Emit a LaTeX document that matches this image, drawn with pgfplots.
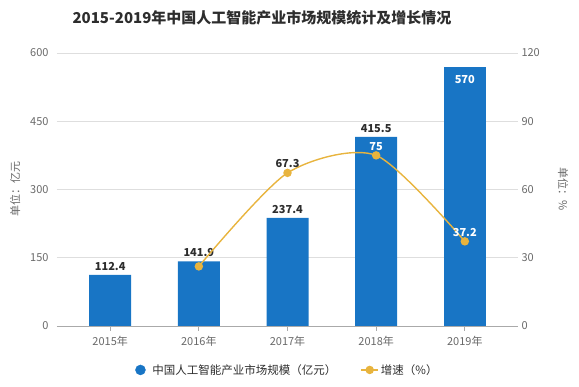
\documentclass[border=0pt]{standalone}
\usepackage{fontspec}
\setmainfont{Noto Sans CJK SC}
\usepackage{pgfplots}
\pgfplotsset{compat=1.18}
\definecolor{barblue}{RGB}{24,117,197}
\definecolor{linegold}{RGB}{232,180,62}
\definecolor{txt}{RGB}{45,45,45}
\definecolor{ticktxt}{RGB}{105,105,105}
\definecolor{gridc}{RGB}{222,222,222}
\definecolor{axisc}{RGB}{170,170,170}
\begin{document}
\begin{tikzpicture}[x=1pt,y=1pt]
\useasboundingbox (0,0) rectangle (579,387);
\node[font=\fontsize{15}{18}\selectfont\bfseries, text=txt] at (262,369) {2015-2019年中国人工智能产业市场规模统计及增长情况};
\begin{axis}[
  at={(57pt,61pt)}, anchor=south west, scale only axis,
  width=461pt, height=273pt,
  xmin=-0.6, xmax=4.6, ymin=0, ymax=600,
  xtick={0,1,2,3,4},
  xticklabels={2015年,2016年,2017年,2018年,2019年},
  ytick={0,150,300,450,600},
  axis x line*=bottom, axis y line*=left,
  y axis line style={draw=none},
  x axis line style={draw=axisc, line width=0.8pt, -},
  ymajorgrids, grid style={gridc, line width=0.8pt},
  tick align=outside,
  ytick style={draw=none},
  xtick style={draw=axisc, line width=0.8pt},
  major tick length=5pt,
  /pgf/number format/assume math mode=true,
  ticklabel style={font=\fontsize{11}{13}\selectfont, text=ticktxt},
  xticklabel style={yshift=-2pt},
  ylabel={单位：亿元},
  ylabel style={at={(axis description cs:-0.091,0.5)}, anchor=center, rotate=0, font=\fontsize{11}{13}\selectfont, text=ticktxt},
  ybar, bar width=42pt, bar shift=0pt,
  nodes near coords,
  nodes near coords style={font=\fontsize{11}{13}\selectfont\bfseries, text=txt, yshift=1pt},
  clip=false,
]
\addplot[fill=barblue, draw=none] coordinates {(0,112.4) (1,141.9) (2,237.4) (3,415.5)};
\addplot[fill=barblue, draw=none, nodes near coords style={anchor=north, text=white, yshift=-6pt}] coordinates {(4,570)};
\end{axis}
\begin{axis}[
  at={(57pt,61pt)}, anchor=south west, scale only axis,
  width=461pt, height=273pt,
  xmin=-0.6, xmax=4.6, ymin=0, ymax=120,
  axis x line=none, axis y line*=right,
  y axis line style={draw=none},
  ytick={0,30,60,90,120},
  ytick style={draw=none},
  /pgf/number format/assume math mode=true,
  ticklabel style={font=\fontsize{11}{13}\selectfont, text=ticktxt},
  ylabel={单位：\%},
  ylabel style={at={(axis description cs:1.098,0.5)}, anchor=center, rotate=180, font=\fontsize{11}{13}\selectfont, text=ticktxt},
  clip=false,
  legend style={at={(axis description cs:0.5,-0.161)}, anchor=center, draw=none, fill=none,
    legend columns=2, font=\fontsize{11.5}{14}\selectfont, text=txt,
    /tikz/every even column/.append style={column sep=22pt}},
  legend cell align=left,
]
\addlegendimage{only marks, mark=*, mark size=5pt, mark options={fill=barblue, draw=barblue}}
\addlegendentry{\hspace{5pt}中国人工智能产业市场规模（亿元）}
\addplot[linegold, line width=1.4pt, smooth, tension=0.45, mark=*, mark size=3.5pt, mark options={fill=linegold, draw=linegold}] coordinates {(1,26.2) (2,67.3) (3,75) (4,37.2)};
\addlegendentry{增速（\%）}
\addplot[draw=none, forget plot, point meta=explicit symbolic, nodes near coords,
  nodes near coords style={font=\fontsize{11}{13}\selectfont\bfseries, text=txt, anchor=south, yshift=2pt}] coordinates {(2,67.3) [67.3]};
\addplot[draw=none, forget plot, point meta=explicit symbolic, nodes near coords,
  nodes near coords style={font=\fontsize{11}{13}\selectfont\bfseries, text=white, anchor=south, yshift=1pt}] coordinates {(3,75) [75] (4,37.2) [37.2]};
\end{axis}
\end{tikzpicture}
\end{document}
